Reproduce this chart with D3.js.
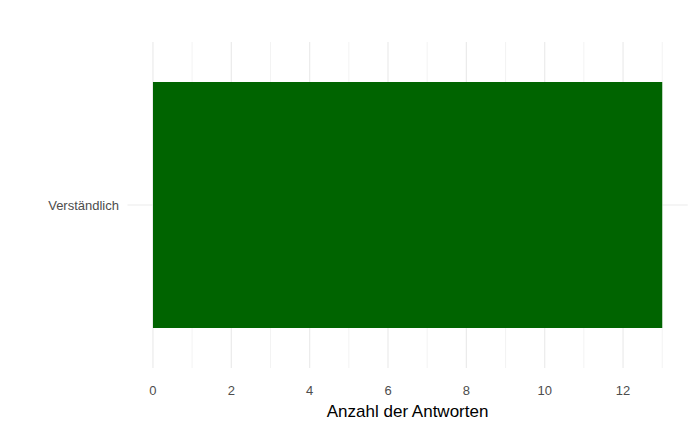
<!DOCTYPE html>
<html><head><meta charset="utf-8">
<script src="https://cdn.jsdelivr.net/npm/d3@7"></script>
<style>body{margin:0;background:#fff}</style></head>
<body><svg id="c" width="697" height="431"></svg>
<script>
const categories = ["Verständlich"];
const values = [13];
const xTicks = [0,2,4,6,8,10,12];
const xMinor = [1,3,5,7,9,11,13];

(function(){
const svg = d3.select("#c");
const pL = 127.5, pR = 687.7, pT = 42, pB = 368;
const x = d3.scaleLinear().domain([-0.65, 13.65]).range([pL, pR]);
const y = d3.scaleBand().domain(categories).range([pT, pB]);
const yc = d => y(d) + y.bandwidth()/2;

svg.selectAll(".mn").data(xMinor).join("line")
  .attr("x1", d=>x(d)).attr("x2", d=>x(d)).attr("y1", pT).attr("y2", pB)
  .attr("stroke", "#ebebeb").attr("stroke-width", 0.6);
svg.selectAll(".mj").data(xTicks).join("line")
  .attr("x1", d=>x(d)).attr("x2", d=>x(d)).attr("y1", pT).attr("y2", pB)
  .attr("stroke", "#ebebeb").attr("stroke-width", 1.2);
svg.selectAll(".hy").data(categories).join("line")
  .attr("x1", pL).attr("x2", pR).attr("y1", yc).attr("y2", yc)
  .attr("stroke", "#ebebeb").attr("stroke-width", 1.2);

const bh = 246;
svg.selectAll(".bar").data(categories).join("rect")
  .attr("x", x(0)).attr("width", (d,i)=>x(values[i])-x(0))
  .attr("y", d=>yc(d)-bh/2).attr("height", bh)
  .attr("fill", "#006400");

svg.selectAll(".xl").data(xTicks).join("text")
  .attr("x", d=>x(d)).attr("y", 395).attr("text-anchor","middle")
  .attr("font-family","Liberation Sans, Arial, sans-serif").attr("font-size",13)
  .attr("fill","#4d4d4d").text(d=>d);
svg.selectAll(".yl").data(categories).join("text")
  .attr("x", 119).attr("y", d=>yc(d)+5).attr("text-anchor","end")
  .attr("font-family","Liberation Sans, Arial, sans-serif").attr("font-size",13)
  .attr("fill","#4d4d4d").text(d=>d);
svg.append("text").attr("x", (pL+pR)/2).attr("y", 417).attr("text-anchor","middle")
  .attr("font-family","Liberation Sans, Arial, sans-serif").attr("font-size",17)
  .attr("fill","#000").text("Anzahl der Antworten");
})();
</script></body></html>
